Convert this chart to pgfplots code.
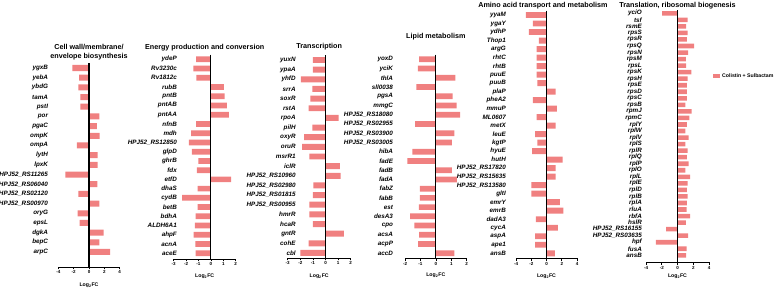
\documentclass[border=0pt]{standalone}
\usepackage{pgfplots}
\pgfplotsset{compat=1.18}
\usepackage{pgfplotstable}
\usepackage{fontspec}
\setmainfont{Liberation Sans}
\definecolor{barc}{RGB}{240,128,128}
\newcommand{\lf}{\fontsize{6.3}{6.3}\selectfont\bfseries\itshape}
\newcommand{\tf}{\fontsize{7.2}{8.8}\selectfont\bfseries}
\newcommand{\xf}{\fontsize{5.2}{5.2}\selectfont\bfseries}
\pgfplotsset{
  panel/.style={
    bar width=0.62, scale only axis, anchor=south west,
    y dir=reverse, ymin=-0.5,
    axis x line*=bottom, axis y line*=left,
    y axis line style={draw=none},
    ytick style={draw=none},
    x axis line style={line width=0.7pt},
    xtick style={line width=0.7pt, black},
    tick align=outside, major tick length=2.5pt,
    xticklabel style={font=\fontsize{4.5}{4.5}\selectfont\bfseries, inner sep=1pt},
    /pgf/number format/assume math mode=true,
    yticklabel style={font=\lf, anchor=east, inner sep=0pt},
    clip=false,
  },
  bars/.style={xbar, fill=barc, draw=none},
}

\pgfplotstableread{
y v
0 -2.17
1 -1.30
2 -1.39
3 -1.13
4 -1.13
5 1.35
6 1.04
7 1.39
8 -1.57
9 1.13
10 1.13
11 -3.08
12 1.09
13 -1.39
14 1.35
15 -1.48
16 -1.22
17 1.91
18 1.35
19 2.74
}\tabA
\pgfplotstableread{
y v
0 -1.20
1 -1.42
2 -1.18
3 1.05
4 1.10
5 1.29
6 1.45
7 -1.20
8 -1.60
9 -1.77
10 -1.53
11 -1.02
12 -1.13
13 1.64
14 -1.07
15 -2.33
16 -1.07
17 -1.23
18 -1.29
19 -1.40
20 -1.26
21 -1.23
}\tabB
\pgfplotstableread{
y v
0 -1.00
1 -1.00
2 -1.95
3 -1.05
4 -1.20
5 -1.33
6 1.05
7 -1.05
8 -1.70
9 -1.86
10 -1.28
11 1.15
12 1.20
13 -0.96
14 -1.00
15 -1.28
16 -1.28
17 -1.00
18 1.45
19 -1.33
20 -2.00
}\tabC
\pgfplotstableread{
y v
0 -1.09
1 -1.17
2 1.26
3 -1.26
4 1.09
5 1.35
6 1.57
7 -1.35
8 1.20
9 1.04
10 -1.52
11 -1.85
12 1.04
13 1.37
14 -1.04
15 -1.04
16 -1.10
17 -1.67
18 -1.39
19 -1.09
20 -1.15
21 1.20
}\tabD
\pgfplotstableread{
y v
0 -2.70
1 -1.80
2 -2.30
3 -1.00
4 -1.30
5 -1.30
6 -1.30
7 -1.30
8 -1.20
9 1.20
10 -1.80
11 1.35
12 -1.30
13 1.20
14 -1.50
15 -1.20
16 -1.90
17 2.10
18 1.20
19 1.20
20 -2.00
21 -2.00
22 1.75
23 2.20
24 -1.40
25 1.50
26 -1.50
27 -1.50
28 1.10
}\tabE
\pgfplotstableread{
y v
0 -1.95
1 1.30
2 1.10
3 1.30
4 1.20
5 2.10
6 1.35
7 1.05
8 1.10
9 1.75
10 1.30
11 1.20
12 1.20
13 1.20
14 1.00
15 1.80
16 1.50
17 1.20
18 1.00
19 1.40
20 1.00
21 1.30
22 1.20
23 1.40
24 1.00
25 1.60
26 1.30
27 1.20
28 1.30
29 1.20
30 1.15
31 1.60
32 1.05
33 -1.45
34 1.35
35 -2.75
36 1.15
37 1.10
}\tabF

\begin{document}
\begin{tikzpicture}
\path[use as bounding box] (0pt,0pt) rectangle (776pt,288pt);

% Panel 1
\begin{axis}[panel, at={(58.3pt,21pt)}, width=61.4pt, height=203.84pt,
  xmin=-4, xmax=4, ymax=20.55, xtick={-4,-2,0,2,4},
  ytick={0,...,19},
  yticklabel style={xshift=-7.6pt},
  yticklabels={ygxB,yebA,ybdG,tamA,pstI,por,pgaC,ompK,ompA,lytH,lpxK,HPJ52\_RS11265,HPJ52\_RS06040,HPJ52\_RS02120,HPJ52\_RS00970,oryG,epsL,dgkA,bepC,arpC}]
\addplot[bars] table[x=v, y=y]{\tabA};
\end{axis}

% Panel 2
\begin{axis}[panel, at={(173.7pt,29pt)}, width=62pt, height=204.31pt,
  xmin=-3, xmax=2, ymax=21.62, xtick={-3,-2,-1,0,1,2},
  ytick={0,...,21},
  yticklabel style={xshift=5.8pt},
  yticklabels={ydeP,Rv3230c,Rv1812c,rubB,pntB,pntAB,pntAA,nfnB,mdh,HPJ52\_RS12850,glpD,ghrB,fdx,etfD,dhaS,cydB,betB,bdhA,ALDH6A1,ahpF,acnA,aceE}]
\addplot[bars] table[x=v, y=y]{\tabB};
\end{axis}

% Panel 3
\begin{axis}[panel, at={(287.7pt,30pt)}, width=63pt, height=202.82pt,
  xmin=-3, xmax=2, ymax=20.52, xtick={-3,-2,-1,0,1,2},
  ytick={0,...,20},
  yticklabel style={xshift=10.6pt},
  yticklabels={yuxN,ypaA,yhfD,srrA,soxR,rstA,rpoA,pilH,oxyR,oruR,msrR1,iclR,HPJ52\_RS10960,HPJ52\_RS02980,HPJ52\_RS01815,HPJ52\_RS00955,hmrR,hcaR,gntR,cohE,cbl}]
\addplot[bars] table[x=v, y=y]{\tabC};
\end{axis}

% Panel 4
\begin{axis}[panel, at={(405pt,29.7pt)}, width=61.7pt, height=203.62pt,
  xmin=-2, xmax=2, ymax=21.54, xtick={-2,-1,0,1,2},
  ytick={0,...,21},
  yticklabel style={xshift=-9.3pt},
  yticklabels={yoxD,yciK,thlA,sll0038,pgsA,mmgC,HPJ52\_RS18080,HPJ52\_RS02955,HPJ52\_RS03900,HPJ52\_RS03005,hibA,fadE,fadB,fadA,fabZ,fabB,est,desA3,cpo,acsA,acpP,accD}]
\addplot[bars] table[x=v, y=y]{\tabD};
\end{axis}

% Panel 5
\begin{axis}[panel, at={(516pt,29.7pt)}, width=61pt, height=247.56pt,
  xmin=-4, xmax=4, ymax=28.59, xtick={-4,-2,0,2,4}, bar width=0.7,
  ytick={0,...,28},
  yticklabel style={xshift=-7.5pt},
  yticklabels={yyaM,ygaY,ydhP,Thop1,argG,rhtC,rhtB,puuE,puuB,plaP,pheA2,mmuP,ML0607,metX,leuE,kgtP,hyuE,hutH,HPJ52\_RS17820,HPJ52\_RS15635,HPJ52\_RS13580,gltI,emrY,emrB,dadA3,cycA,aspA,ape1,ansB}]
\addplot[bars] table[x=v, y=y]{\tabE};
\end{axis}

% Panel 6
\begin{axis}[panel, at={(646pt,25.5pt)}, width=63pt, height=252.47pt,
  xmin=-4, xmax=4, ymax=38.1, xtick={-4,-2,0,2,4}, bar width=0.7,
  ytick={0,...,37},
  yticklabel style={xshift=-1.5pt},
  yticklabels={yciO,tsf,rsmE,rpsS,rpsR,rpsQ,rpsN,rpsM,rpsL,rpsK,rpsH,rpsE,rpsD,rpsC,rpsB,rpmJ,rpmC,rplY,rplW,rplV,rplS,rplR,rplQ,rplP,rplO,rplL,rplE,rplD,rplB,rplA,rluA,rbfA,hslR,HPJ52\_RS16155,HPJ52\_RS03635,hpf,fusA,ansB},
  legend style={at={(1.063,0.739)}, anchor=west, draw=none, fill=none,
    font=\fontsize{5.2}{5.2}\selectfont\bfseries, inner sep=0pt, legend cell align=left},
  legend image code/.code={\fill[barc] (0pt,-1.6pt) rectangle (7pt,1.6pt);}]
\addplot[bars] table[x=v, y=y]{\tabF};
\addlegendentry{Colistin + Sulbactam}
\end{axis}

% zero reference lines (x = 0 of each panel; panel edges in pt)
\draw[black, line width=1.1pt] (89pt,224.84pt) -- (89pt,21pt);
\draw[black, line width=1.1pt] (210.9pt,233.31pt) -- (210.9pt,29pt);
\draw[black, line width=1.1pt] (325.5pt,232.82pt) -- (325.5pt,30pt);
\draw[black, line width=1.1pt] (435.85pt,233.32pt) -- (435.85pt,29.7pt);
\draw[black, line width=1.1pt] (546.5pt,277.26pt) -- (546.5pt,29.7pt);
\draw[black, line width=1.1pt] (677.5pt,277.97pt) -- (677.5pt,25.5pt);

% Titles
\node[font=\tf, align=center] at (89pt,236pt) {Cell wall/membrane/\\envelope biosynthesis};
\node[font=\tf] at (204.7pt,240pt) {Energy production and conversion};
\node[font=\tf] at (319.2pt,241pt) {Transcription};
\node[font=\tf] at (435.8pt,251pt) {Lipid metabolism};
\node[font=\tf] at (543pt,282pt) {Amino acid transport and metabolism};
\node[font=\tf] at (677.5pt,282pt) {Translation, ribosomal biogenesis};

% x labels
\node[font=\xf] at (89pt,3pt) {Log\textsubscript{2}FC};
\node[font=\xf] at (204.7pt,12pt) {Log\textsubscript{2}FC};
\node[font=\xf] at (319.2pt,12pt) {Log\textsubscript{2}FC};
\node[font=\xf] at (435.8pt,13pt) {Log\textsubscript{2}FC};
\node[font=\xf] at (546.5pt,12pt) {Log\textsubscript{2}FC};
\node[font=\xf] at (677.5pt,12pt) {Log\textsubscript{2}FC};
\end{tikzpicture}
\end{document}
